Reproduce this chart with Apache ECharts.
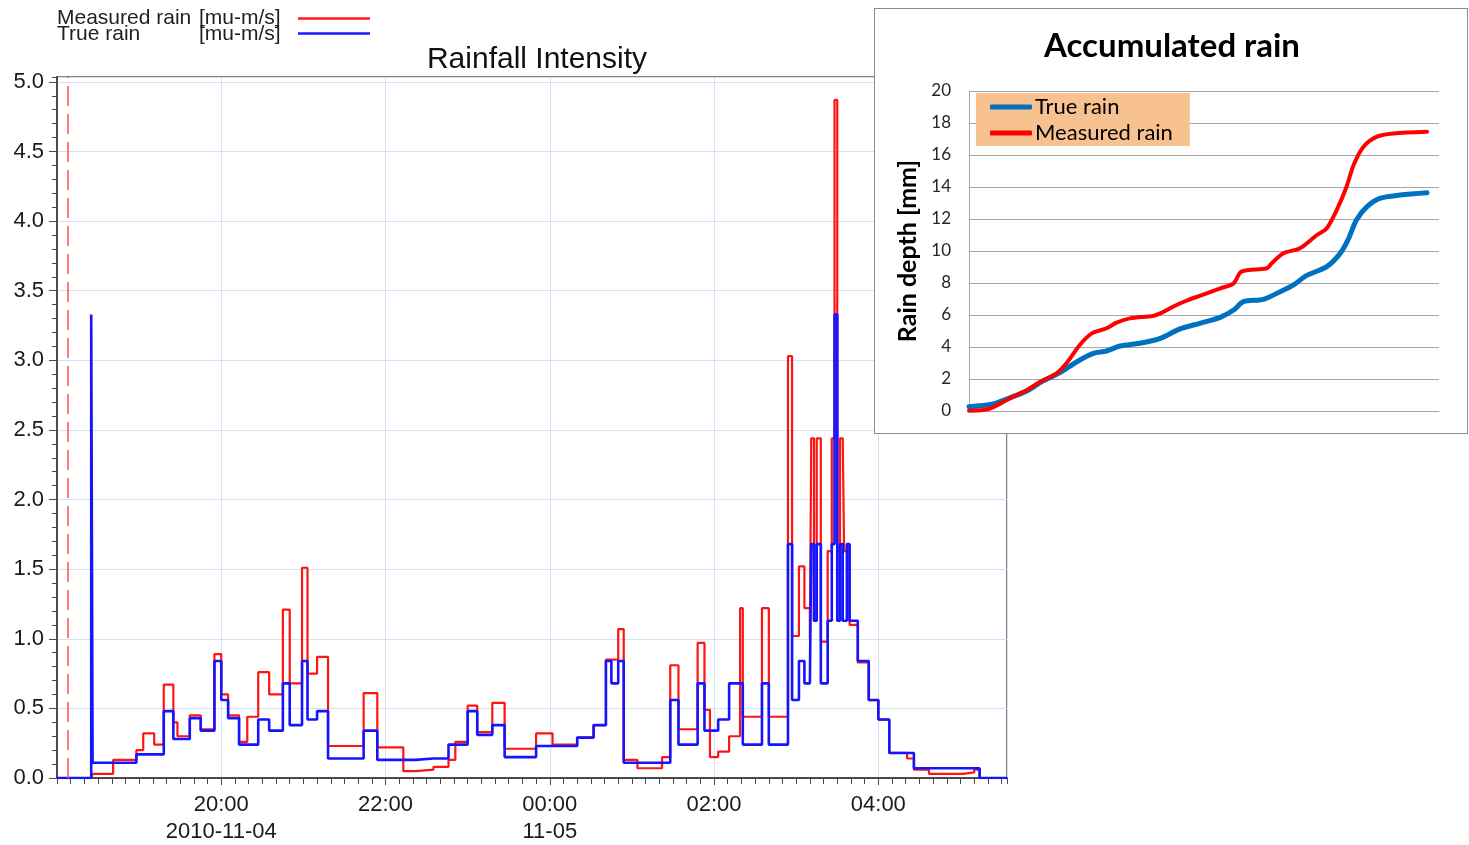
<!DOCTYPE html>
<html>
<head>
<meta charset="utf-8">
<title>Rainfall Intensity</title>
<script src="https://cdn.jsdelivr.net/npm/echarts@6/dist/echarts.min.js"></script>
<style>
  html, body { margin: 0; padding: 0; background: #fff; }
  #main { position: absolute; left: 0; top: 0; width: 1469px; height: 845px; }
  #inset { position: absolute; left: 874px; top: 8px; width: 594px; height: 426px;
           box-sizing: border-box; border: 1px solid #8c8c8c; background: #fff; }
</style>
</head>
<body>
<div id="main"></div>
<div id="inset"></div>
<script>
// Rain intensity steps: each value holds from its time until the next time (2010-11-04 18:00 .. 11-05 05:34)
const stepTimes = ['18:00','18:25','18:26','18:41','18:58','19:03','19:11','19:18','19:25','19:28',
  '19:37','19:45','19:55','20:00','20:05','20:13','20:19','20:27','20:35','20:45',
  '20:50','20:59','21:03','21:10','21:18','21:44','21:54','22:13','22:22','22:35',
  '22:46','22:51','23:00','23:07','23:18','23:27','23:50','00:02','00:20','00:32',
  '00:41','00:45','00:50','00:54','01:04','01:22','01:28','01:34','01:48','01:53',
  '01:57','02:03','02:11','02:19','02:21','02:35','02:40','02:54','02:57','03:02',
  '03:06','03:10','03:11','03:13','03:15','03:18','03:23','03:26','03:28','03:30',
  '03:32','03:34','03:35','03:37','03:39','03:45','03:53','04:00','04:08','04:21',
  '04:26','04:37','05:02','05:10','05:14','05:34'];

// Measured rain [mu-m/s]
const measuredRain = [0, 0, 0.03, 0.13, 0.20, 0.32, 0.24, 0.67, 0.40, 0.30,
  0.45, 0.35, 0.89, 0.60, 0.45, 0.26, 0.44, 0.76, 0.60, 1.21,
  0.68, 1.51, 0.75, 0.87, 0.23, 0.61, 0.22, 0.05, 0.06, 0.08,
  0.13, 0.26, 0.52, 0.33, 0.54, 0.21, 0.32, 0.24, 0.29, 0.38,
  0.85, 0.85, 1.07, 0.13, 0.07, 0.15, 0.81, 0.35, 0.97, 0.49,
  0.15, 0.19, 0.30, 1.22, 0.44, 1.22, 0.44, 3.03, 1.02, 1.52,
  1.22, 1.00, 2.44, 1.13, 2.44, 0.98, 1.63, 2.44, 4.87, 1.63,
  2.44, 2.44, 1.63, 1.67, 1.10, 0.83, 0.56, 0.42, 0.18, 0.14,
  0.06, 0.03, 0.04, 0.06, 0, 0];

// True rain [mu-m/s]
const trueRain = [0, 3.33, 0.11, 0.11, 0.17, 0.17, 0.17, 0.48, 0.28, 0.28,
  0.43, 0.34, 0.84, 0.56, 0.43, 0.24, 0.24, 0.42, 0.34, 0.68,
  0.38, 0.84, 0.42, 0.48, 0.14, 0.34, 0.13, 0.13, 0.14, 0.14,
  0.24, 0.24, 0.48, 0.31, 0.38, 0.15, 0.23, 0.23, 0.29, 0.38,
  0.84, 0.68, 0.84, 0.11, 0.11, 0.11, 0.56, 0.24, 0.68, 0.34,
  0.34, 0.42, 0.68, 0.68, 0.24, 0.68, 0.24, 1.68, 0.56, 0.84,
  0.68, 0.68, 1.68, 1.13, 1.68, 0.68, 1.13, 1.68, 3.33, 1.13,
  1.68, 1.13, 1.13, 1.68, 1.13, 0.84, 0.56, 0.42, 0.18, 0.18,
  0.07, 0.07, 0.07, 0.07, 0, 0];

// Time of the dashed marker line
const markerTime = '18:08';

// Axis tick labels (every two hours from 20:00)
const xTickLabels = ['20:00\n2010-11-04', '22:00', '00:00\n11-05', '02:00', '04:00'];

// Accumulated rain depth [mm] at minutes after 18:00
const trueCumMinutes = [25, 59, 83, 107, 130, 154, 178, 201, 220, 239, 267, 296, 324, 352, 381,
  400, 414, 442, 466, 485, 503, 532, 551, 562, 574, 589, 607, 636, 674];
const trueCumDepth = [0.27, 0.44, 0.83, 1.25, 1.88, 2.40, 3.08, 3.60, 3.75, 4.06, 4.23, 4.54, 5.13, 5.48, 5.85,
  6.31, 6.83, 6.98, 7.46, 7.88, 8.46, 9.02, 9.85, 10.69, 11.94, 12.77, 13.29, 13.50, 13.64];
const measCumMinutes = [25, 45, 59, 83, 107, 126, 149, 163, 182, 199, 220, 234, 253, 286, 296, 314, 333,
  352, 381, 400, 411, 447, 454, 470, 494, 518, 532, 546, 560, 570, 584, 603, 626, 674];
const measCumDepth = [0.02, 0.06, 0.23, 0.79, 1.31, 1.83, 2.35, 2.98, 4.13, 4.85, 5.17, 5.52, 5.79, 5.94, 6.10, 6.52, 6.89,
  7.20, 7.67, 7.98, 8.71, 8.92, 9.23, 9.85, 10.17, 11.00, 11.42, 12.56, 14.02, 15.38, 16.52, 17.15, 17.35, 17.46];

// minutes after 18:00 on 2010-11-04 (times before noon belong to the next day)
function toMinutes(s) {
  const [h, m] = s.split(':').map(Number);
  let t = h * 60 + m;
  if (h < 12) t += 1440;
  return t - 18 * 60;
}
const pairs = (xs, ys) => xs.map((x, i) => [x, ys[i]]);
const stepMinutes = stepTimes.map(toMinutes);
const X_MAX = 694;
const Y_MAX = 5.035;
const sans = 'Liberation Sans, Arial, sans-serif';

const main = echarts.init(document.getElementById('main'), null, { renderer: 'canvas' });
main.setOption({
  animation: false,
  backgroundColor: '#fff',
  title: {
    text: 'Rainfall Intensity',
    left: 532, top: 40, textAlign: 'center',
    textStyle: { fontFamily: sans, fontSize: 30, fontWeight: 'normal', color: '#111' }
  },
  grid: { left: 57, right: 462, top: 77, bottom: 66, show: true, borderColor: '#5a5a5a', borderWidth: 1.5 },
  xAxis: [{
    type: 'value', min: 0, max: X_MAX, interval: 120,
    axisLine: { show: true, lineStyle: { color: '#4a4a4a', width: 2 } },
    axisTick: { show: true, length: 7, lineStyle: { color: '#4a4a4a' } },
    axisLabel: {
      showMinLabel: false, showMaxLabel: false, margin: 13,
      fontFamily: sans, fontSize: 22, color: '#1a1a1a', lineHeight: 27,
      formatter: v => (v > 0 && v % 120 === 0) ? (xTickLabels[v / 120 - 1] || '') : ''
    },
    splitLine: { show: true, lineStyle: { color: '#d3e3f6', width: 1 } }
  }, {
    type: 'value', min: 0, max: X_MAX, interval: 10, position: 'bottom',
    axisLine: { show: false },
    axisTick: { show: true, length: 6, lineStyle: { color: '#4a4a4a' } },
    axisLabel: { show: false },
    splitLine: { show: false }
  }],
  yAxis: [{
    type: 'value', min: 0, max: Y_MAX, interval: 0.5,
    axisLine: { show: true, lineStyle: { color: '#4a4a4a', width: 2 } },
    axisTick: { show: true, length: 8, lineStyle: { color: '#4a4a4a' } },
    axisLabel: {
      showMaxLabel: false, margin: 13,
      fontFamily: sans, fontSize: 22, color: '#1a1a1a',
      formatter: v => v.toFixed(1)
    },
    splitLine: { show: true, lineStyle: { color: '#d3e3f6', width: 1 } }
  }, {
    type: 'value', min: 0, max: Y_MAX, interval: 0.1, position: 'left',
    axisLine: { show: false },
    axisTick: { show: true, length: 5, lineStyle: { color: '#4a4a4a' } },
    axisLabel: { show: false },
    splitLine: { show: false }
  }],
  graphic: [
    { type: 'text', left: 57, top: 8, style: { text: 'Measured rain', fontFamily: sans, fontSize: 21, fill: '#222' } },
    { type: 'text', left: 199, top: 8, style: { text: '[mu-m/s]', fontFamily: sans, fontSize: 21, fill: '#222' } },
    { type: 'text', left: 57, top: 24, style: { text: 'True rain', fontFamily: sans, fontSize: 21, fill: '#222' } },
    { type: 'text', left: 199, top: 24, style: { text: '[mu-m/s]', fontFamily: sans, fontSize: 21, fill: '#222' } },
    { type: 'line', shape: { x1: 298, y1: 18.5, x2: 370, y2: 18.5 }, style: { stroke: '#ff1a1a', lineWidth: 2.5 } },
    { type: 'line', shape: { x1: 298, y1: 33.5, x2: 370, y2: 33.5 }, style: { stroke: '#1a1aff', lineWidth: 2.5 } }
  ],
  series: [{
    name: 'Measured rain',
    type: 'line', step: 'end', showSymbol: false, symbol: 'none',
    xAxisIndex: 0, yAxisIndex: 0,
    data: pairs(stepMinutes, measuredRain),
    lineStyle: { color: '#ff1414', width: 2.2 },
    markLine: {
      silent: true, symbol: 'none', label: { show: false },
      lineStyle: { color: '#ff5a5a', type: [20, 8], width: 1.6 },
      data: [{ xAxis: toMinutes(markerTime) }]
    },
    z: 2
  }, {
    name: 'True rain',
    type: 'line', step: 'end', showSymbol: false, symbol: 'none',
    xAxisIndex: 0, yAxisIndex: 0,
    data: pairs(stepMinutes, trueRain),
    lineStyle: { color: '#1414ff', width: 2.6 },
    z: 3
  }]
});

const lato = 'Lato, "Open Sans", sans-serif';
const inset = echarts.init(document.getElementById('inset'), null, { renderer: 'canvas' });
inset.setOption({
  animation: false,
  backgroundColor: '#fff',
  title: {
    text: 'Accumulated rain',
    left: 292, top: 16, textAlign: 'center',
    textStyle: { fontFamily: lato, fontSize: 33, fontWeight: 'bold', color: '#000' }
  },
  legend: {
    orient: 'vertical', left: 101, top: 84,
    backgroundColor: '#f8c190', borderRadius: 0,
    padding: [3, 17, 2, 14], itemGap: 4,
    itemWidth: 42, itemHeight: 5, icon: 'roundRect',
    textStyle: { fontFamily: lato, fontSize: 22, color: '#000', padding: [0, 0, 0, -2] },
    data: ['True rain', 'Measured rain']
  },
  grid: { left: 94, right: 28, top: 82, bottom: 22 },
  xAxis: {
    type: 'value', min: 25, max: 691,
    axisLine: { show: true, lineStyle: { color: '#a6a6a6', width: 1 } },
    axisTick: { show: false }, axisLabel: { show: false }, splitLine: { show: false }
  },
  yAxis: {
    type: 'value', min: 0, max: 20, interval: 2,
    name: 'Rain depth [mm]', nameLocation: 'middle', nameGap: 48,
    nameTextStyle: { fontFamily: lato, fontSize: 25, fontWeight: 'bold', color: '#000' },
    axisLine: { show: true, lineStyle: { color: '#a6a6a6', width: 1 } },
    axisTick: { show: false },
    axisLabel: { fontFamily: lato, fontSize: 17, color: '#262626', margin: 18 },
    splitLine: { show: true, lineStyle: { color: '#a6a6a6', width: 1 } }
  },
  series: [{
    name: 'True rain', type: 'line', smooth: 0.3, showSymbol: false, symbol: 'none',
    data: pairs(trueCumMinutes, trueCumDepth),
    itemStyle: { color: '#0070c0' },
    lineStyle: { color: '#0070c0', width: 5, cap: 'round', join: 'round' }
  }, {
    name: 'Measured rain', type: 'line', smooth: 0.3, showSymbol: false, symbol: 'none',
    data: pairs(measCumMinutes, measCumDepth),
    itemStyle: { color: '#ff0000' },
    lineStyle: { color: '#ff0000', width: 4, cap: 'round', join: 'round' }
  }]
});
</script>
</body>
</html>
